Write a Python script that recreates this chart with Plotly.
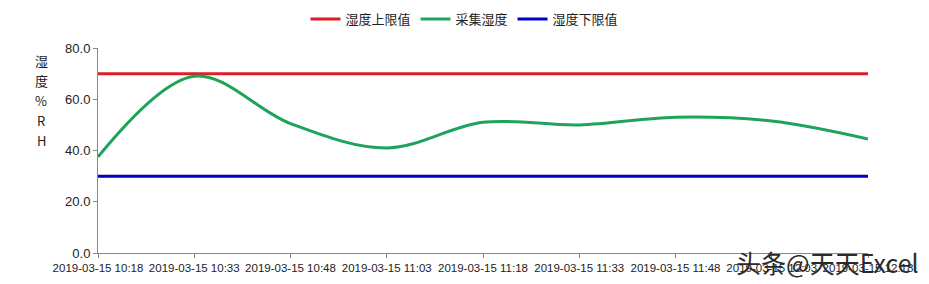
import plotly.graph_objects as go

categories = ["2019-03-15 10:18", "2019-03-15 10:33", "2019-03-15 10:48",
              "2019-03-15 11:03", "2019-03-15 11:18", "2019-03-15 11:33",
              "2019-03-15 11:48", "2019-03-15 12:03", "2019-03-15 12:18"]
upper_limit = [70, 70, 70, 70, 70, 70, 70, 70, 70]
humidity = [37.5, 69.0, 50.5, 41.0, 51.0, 50.0, 53.0, 51.5, 44.5]
lower_limit = [30, 30, 30, 30, 30, 30, 30, 30, 30]
y_ticks = [0, 20, 40, 60, 80]
y_title_chars = ["湿", "度", "%", "R", "H"]

fig = go.Figure()
fig.add_trace(go.Scatter(x=categories, y=upper_limit, mode="lines", name="湿度上限值",
                         line=dict(color="#dc1f26", width=3)))
fig.add_trace(go.Scatter(x=categories, y=humidity, mode="lines", name="采集湿度",
                         line=dict(color="#1ea45a", width=3, shape="spline", smoothing=1.0)))
fig.add_trace(go.Scatter(x=categories, y=lower_limit, mode="lines", name="湿度下限值",
                         line=dict(color="#0000c0", width=3)))

cjk = "Noto Sans CJK SC"
num_font = "Liberation Sans"

for i, ch in enumerate(y_title_chars):
    fig.add_annotation(text=ch, xref="paper", yref="paper", x=-0.0740, xanchor="center",
                       y=(253 - (60 + i * 20)) / 205, yanchor="middle", showarrow=False,
                       font=dict(family=cjk, size=13, color="#222"))

fig.add_annotation(text="头条@天天Excel", xref="paper", yref="paper",
                   x=(827 - 98) / 770, xanchor="center", y=(253 - 262) / 205, yanchor="middle",
                   showarrow=False, font=dict(family=cjk, size=25, color="#2a2a2a"))

fig.update_layout(
    width=929, height=284,
    margin=dict(l=98, r=61, t=48, b=31, autoexpand=False),
    plot_bgcolor="white", paper_bgcolor="white",
    showlegend=True,
    legend=dict(orientation="h", x=0.5, xanchor="center", xref="container",
                y=1 - 19 / 284, yanchor="middle", yref="container",
                font=dict(family=cjk, size=13, color="#222"), itemwidth=30),
    xaxis=dict(type="category", range=[0, 8], showgrid=False, showline=True,
               linecolor="#888", linewidth=1, ticks="outside", ticklen=4, tickcolor="#888",
               tickangle=0, tickfont=dict(family=num_font, size=11.5, color="#222"),
               zeroline=False, automargin=False),
    yaxis=dict(range=[0, 80], tickvals=y_ticks, tickformat=".1f", showgrid=False,
               showline=True, linecolor="#888", linewidth=1, ticks="outside", ticklen=4,
               tickcolor="#888", tickfont=dict(family=num_font, size=13, color="#222"),
               zeroline=False, automargin=False),
)

fig.write_html("out.html")
